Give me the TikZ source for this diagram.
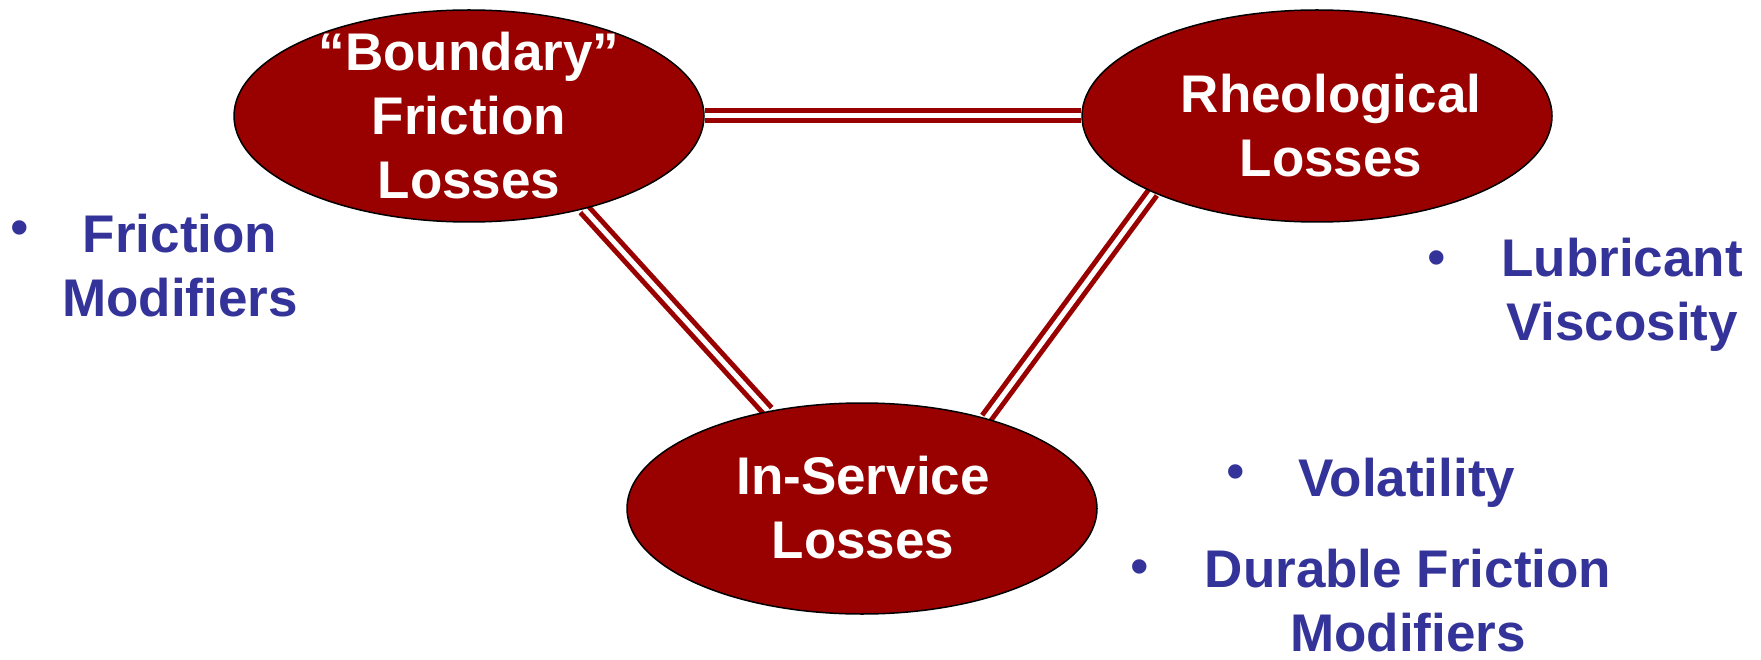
\documentclass[tikz,border=0pt]{standalone}
\usepackage{fontspec}
\setmainfont{Liberation Sans}
\usetikzlibrary{shapes.geometric,backgrounds}
\definecolor{blobred}{HTML}{990000}
\definecolor{noteblue}{HTML}{333399}
\begin{document}
\begin{tikzpicture}[x=1pt,y=-1pt,
  blob/.style={ellipse,draw=black,line width=1.5pt,fill=blobred,minimum width=470pt,minimum height=212pt,inner sep=0pt},
  blobtext/.style={text=white,font=\fontsize{53}{64}\selectfont\bfseries,align=center,inner sep=0pt},
  note/.style={text=noteblue,font=\fontsize{53}{64}\selectfont\bfseries,align=center,inner sep=0pt},
  bul/.style={text=noteblue,font=\fontsize{53}{64}\selectfont,inner sep=0pt},
  link/.style={draw=blobred,line width=5pt,double=white,double distance=5pt}]
\useasboundingbox (0,0) rectangle (1761,660);
\node[blob] (e1) at (469,116) {};
\node[blob] (e2) at (1317,116) {};
\node[blob,minimum height=211pt] (e3) at (862,508.5) {};
\node[blobtext] (t1) at (469,116) {“Boundary”\\Friction\\Losses};
\node[blobtext] (t2) at (1331,126) {Rheological\\Losses};
\node[blobtext] (t3) at (863,508) {In-Service\\Losses};
\begin{scope}[on background layer]
\draw[link] (e1.east) -- (e2.west);
\draw[link] (e1.-39) -- (e3.134);
\draw[link] (e2.-155) -- (e3.36);
\end{scope}
\node[bul] (b1) at (20,233) {•};
\node[note] (n1) at (180,266) {Friction\\Modifiers};
\node[bul] (b2) at (1437,263) {•};
\node[note] (n2) at (1622,295) {Lubricant\\Viscosity};
\node[bul] (b3) at (1236,477) {•};
\node[note,anchor=base west] (n3) at (1298,496) {Volatility};
\node[bul] (b4) at (1140,572) {•};
\node[note] (n4) at (1408,601) {Durable Friction\\Modifiers};
\end{tikzpicture}
\end{document}
